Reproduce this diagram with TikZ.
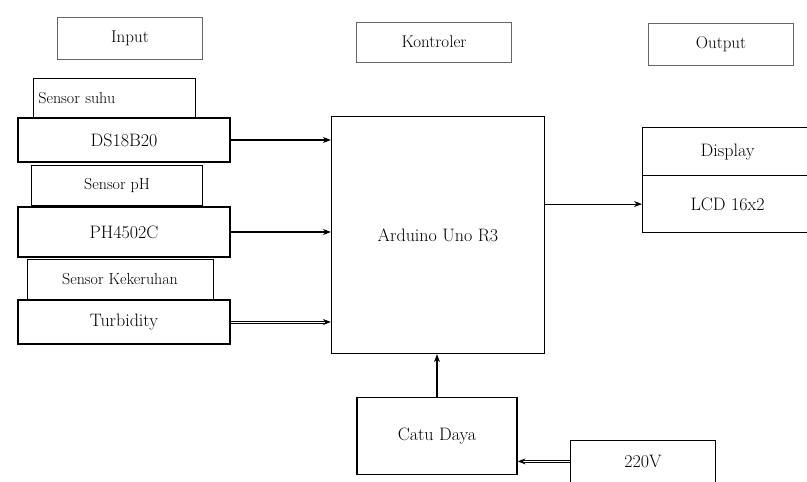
\documentclass[tikz,border=0pt]{standalone}
\usetikzlibrary{arrows.meta}
\begin{document}
\begin{tikzpicture}
				[x=1pt,y=-1pt,
				label box/.style={draw=black!60,thin,minimum width=145pt,minimum height=42pt,font=\fontsize{17}{19}\selectfont},
				sensor/.style={draw,very thick,minimum width=212pt,minimum height=44pt,font=\fontsize{18}{20}\selectfont},
				kind/.style={draw,thick,minimum height=40pt,font=\fontsize{16}{18}\selectfont},
				link/.style={very thick,-{Stealth[length=8pt]}}]
				\useasboundingbox (0,0) rectangle (807,482);
				% titles
				\node[label box,name=input] at (130,38) {Input};
				\node[label box,name=kontrol,minimum width=155pt,minimum height=40pt] at (434,42) {Kontroler};
				\node[label box,name=output] at (721,44) {Output};
				% input side
				\node[kind,name=suhu,minimum width=162pt,anchor=north west,inner xsep=5pt,text width=152pt,align=left] at (33,78) {Sensor suhu};
				\node[sensor,name=ds] at (124,140) {DS18B20};
				\node[kind,name=ph,minimum width=171pt] at (117,185) {Sensor pH};
				\node[sensor,name=phmod,minimum height=50pt] at (124,232) {PH4502C};
				\node[kind,name=keruh,minimum width=186pt] at (120,279) {Sensor Kekeruhan};
				\node[sensor,name=turb] at (124,322) {Turbidity};
				% controller
				\node[draw,very thick,minimum width=213pt,minimum height=237pt,font=\fontsize{18}{20}\selectfont,name=mcu] at (438,235) {Arduino Uno R3};
				% output side
				\node[draw,very thick,minimum width=170pt,minimum height=48pt,anchor=north west,font=\fontsize{18}{20}\selectfont,name=disp] at (642,127) {Display};
				\node[draw,very thick,minimum width=170pt,minimum height=57pt,anchor=north west,font=\fontsize{18}{20}\selectfont,name=lcd] at (642,175) {LCD 16x2};
				% power
				\node[draw,very thick,minimum width=160pt,minimum height=77pt,font=\fontsize{18}{20}\selectfont,name=catu] at (437,436) {Catu Daya};
				\node[draw,thick,minimum width=145pt,minimum height=42pt,anchor=north west,font=\fontsize{18}{20}\selectfont,name=ac] at (570,440) {220V};
				% connections
				\draw[link] (ds.east)--(ds.east-|mcu.west);
				\draw[link] (phmod.east)--(phmod.east-|mcu.west);
				\draw[link,double] (turb.east)--(turb.east-|mcu.west);
				\draw[link] (lcd.west-|mcu.east)--(lcd.west);
				\draw[link] (catu.north)--(catu.north|-mcu.south);
				\draw[link,double] (ac.west)--(ac.west-|catu.east);
			\end{tikzpicture}
\end{document}
